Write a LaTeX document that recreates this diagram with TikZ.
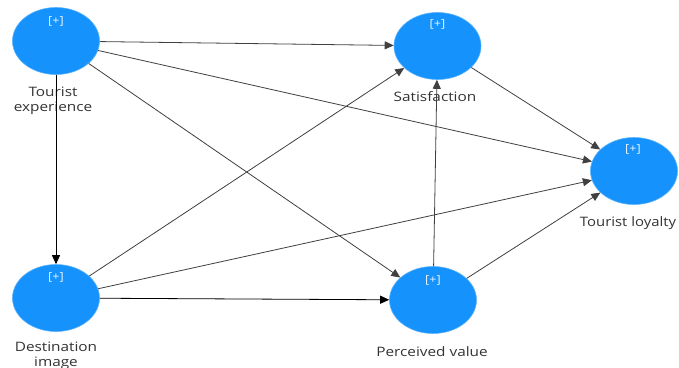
\documentclass[tikz,border=0pt]{standalone}
\usepackage{fontspec}
\setmainfont{Open Sans}
\usetikzlibrary{arrows.meta,shapes.geometric}
\definecolor{latent}{HTML}{1592FB}
\definecolor{labeltext}{HTML}{333333}
\definecolor{pathline}{HTML}{404040}
\tikzset{
  construct/.style={ellipse, fill=latent, draw=latent!70!white, line width=0.6pt,
    minimum width=87pt, minimum height=67pt, inner sep=0pt},
  plus/.style={text=white!92!latent, font=\fontsize{11}{11}\selectfont, xscale=1.15},
  caption/.style={text=labeltext, font=\fontsize{13}{15}\selectfont, align=center, xscale=1.18},
  relpath/.style={draw=pathline, line width=0.8pt, -{Triangle[width=8pt,length=9pt]}},
}
\begin{document}
\begin{tikzpicture}[x=1pt,y=-1pt]
\useasboundingbox (0,0) rectangle (679,367);
\fill[white] (0,0) rectangle (679,367);

% constructs
\node[construct] (te) at (56,41) {};
\node[construct] (sat) at (437.5,46) {};
\node[construct] (tl) at (634,171) {};
\node[construct] (di) at (56,298) {};
\node[construct] (pv) at (433,300) {};

% expand markers
\node[plus] (tep) at (56,21) {[+]};
\node[plus] (satp) at (437.5,24) {[+]};
\node[plus] (tlp) at (633,149) {[+]};
\node[plus] (dip) at (56,277) {[+]};
\node[plus] (pvp) at (433,280) {[+]};

% construct names
\node[caption] (tel) at (53,101) {Tourist\\experience};
\node[caption] (satl) at (435,97) {Satisfaction};
\node[caption, xscale=0.97] (tll) at (628,223) {Tourist loyalty};
\node[caption] (dil) at (56,356) {Destination\\image};
\node[caption] (pvl) at (432,352) {Perceived value};

% structural paths
\draw[relpath] (te) -- (sat);
\draw[relpath] (te) -- (tl);
\draw[relpath] (te) -- (pv);
\draw[relpath, draw=black] (te) -- (di);
\draw[relpath] (di) -- (sat);
\draw[relpath] (di) -- (tl);
\draw[relpath, draw=black] (di) -- (pv);
\draw[relpath] (pv) -- (sat);
\draw[relpath] (pv) -- (tl);
\draw[relpath] (sat) -- (tl);
\end{tikzpicture}
\end{document}
